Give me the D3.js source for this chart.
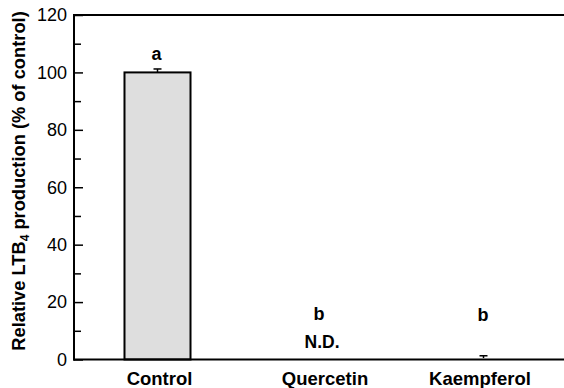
<!DOCTYPE html>
<html><head><meta charset="utf-8">
<script src="https://cdn.jsdelivr.net/npm/d3@7"></script>
<style>
html,body{margin:0;padding:0;background:#fff;}
svg{display:block;font-family:"Liberation Sans",Arial,sans-serif;}
</style></head>
<body><svg id="c" width="564" height="388"></svg>
<script>
const categories = ["Control", "Quercetin", "Kaempferol"];
const values = [100, null, 0.5];
const errors = [1.2, null, 0.8];
const letters = ["a", "b", "b"];
const letterPos = [104.3, 13.8, 13.3];
const notes = ["", "N.D.", ""];
const notePos = [null, 4, null];
const majorTicks = [0, 20, 40, 60, 80, 100, 120];
const minorTicks = [10, 30, 50, 70, 90, 110];

const svg = d3.select("#c");
const FF = "Liberation Sans, Arial, sans-serif";
const x0 = 74, x1 = 566, yTop = 15, yBot = 359.5;
const y = d3.scaleLinear().domain([0, 120]).range([yBot, yTop]);
const x = d3.scaleBand().domain(categories).range([76, 565]).paddingInner(0.595).paddingOuter(0.2975);

const data = categories.map((c, i) => ({c, v: values[i], e: errors[i], l: letters[i], lp: letterPos[i], n: notes[i], np: notePos[i]}));

// bars
svg.selectAll("rect.bar").data(data.filter(d => d.v != null && d.v > 5)).enter().append("rect")
  .attr("x", d => x(d.c)).attr("width", x.bandwidth())
  .attr("y", d => y(d.v)).attr("height", d => y(0) - y(d.v))
  .attr("fill", "#dedede").attr("stroke", "#000").attr("stroke-width", 2);

// error bars
data.filter(d => d.v != null && d.e != null).forEach(d => {
  const cx = x(d.c) + x.bandwidth() / 2;
  svg.append("line").attr("x1", cx).attr("x2", cx).attr("y1", y(d.v)).attr("y2", y(d.v + d.e))
    .attr("stroke", "#000").attr("stroke-width", 1.5);
  svg.append("line").attr("x1", cx - 4).attr("x2", cx + 4).attr("y1", y(d.v + d.e)).attr("y2", y(d.v + d.e))
    .attr("stroke", "#000").attr("stroke-width", 1.5);
});

// letters
const letDx = [-1, -1.5, -0.5];
svg.selectAll("text.let").data(data).enter().append("text")
  .attr("x", (d, i) => x(d.c) + x.bandwidth() / 2 + letDx[i]).attr("y", d => y(d.lp))
  .attr("text-anchor", "middle").attr("font-weight", "bold").attr("font-size", 18).text(d => d.l);
svg.selectAll("text.nd").data(data.filter(d => d.n)).enter().append("text")
  .attr("x", d => x(d.c) + x.bandwidth() / 2 + 1.5).attr("y", d => y(d.np))
  .attr("text-anchor", "middle").attr("font-weight", "bold").attr("font-size", 17.5).text(d => d.n);

// y axis
const gy = svg.append("g").attr("transform", `translate(${x0},0)`)
  .call(d3.axisLeft(y).tickValues(majorTicks).tickSizeInner(-9).tickSizeOuter(0).tickPadding(7));
gy.select(".domain").remove();
gy.selectAll(".tick line").attr("stroke-width", 1.5);
gy.selectAll(".tick text").attr("font-size", 18).attr("font-family", FF).attr("fill", "#000");
const gm = svg.append("g").attr("transform", `translate(${x0},0)`)
  .call(d3.axisLeft(y).tickValues(minorTicks).tickSizeInner(-7).tickSizeOuter(0).tickFormat(""));
gm.select(".domain").remove();
gm.selectAll(".tick line").attr("stroke-width", 1.5);

// frame lines
svg.append("line").attr("x1", x0).attr("x2", x0).attr("y1", yTop - 1).attr("y2", yBot + 1).attr("stroke", "#000").attr("stroke-width", 2);
svg.append("line").attr("x1", x0 - 1).attr("x2", x1).attr("y1", yTop).attr("y2", yTop).attr("stroke", "#000").attr("stroke-width", 2);
svg.append("line").attr("x1", x0 - 1).attr("x2", x1).attr("y1", yBot).attr("y2", yBot).attr("stroke", "#000").attr("stroke-width", 2);

// x labels
const gx = svg.append("g").attr("transform", `translate(0,${yBot})`)
  .call(d3.axisBottom(x).tickSize(0).tickPadding(12.5));
gx.select(".domain").remove();
gx.selectAll(".tick text").attr("font-size", 18.5).attr("font-weight", "bold").attr("fill", "#000")
  .attr("font-family", FF).attr("dx", (d, i) => [2, 4.5, -3.5][i]);

// y title
const t = svg.append("text").attr("transform", "translate(25,181) rotate(-90)")
  .attr("text-anchor", "middle").attr("font-weight", "bold").attr("font-size", 18.3);
t.append("tspan").text("Relative LTB");
t.append("tspan").attr("font-size", 12).attr("dy", 4).text("4");
t.append("tspan").attr("dy", -4).text(" production (% of control)");
</script></body></html>
